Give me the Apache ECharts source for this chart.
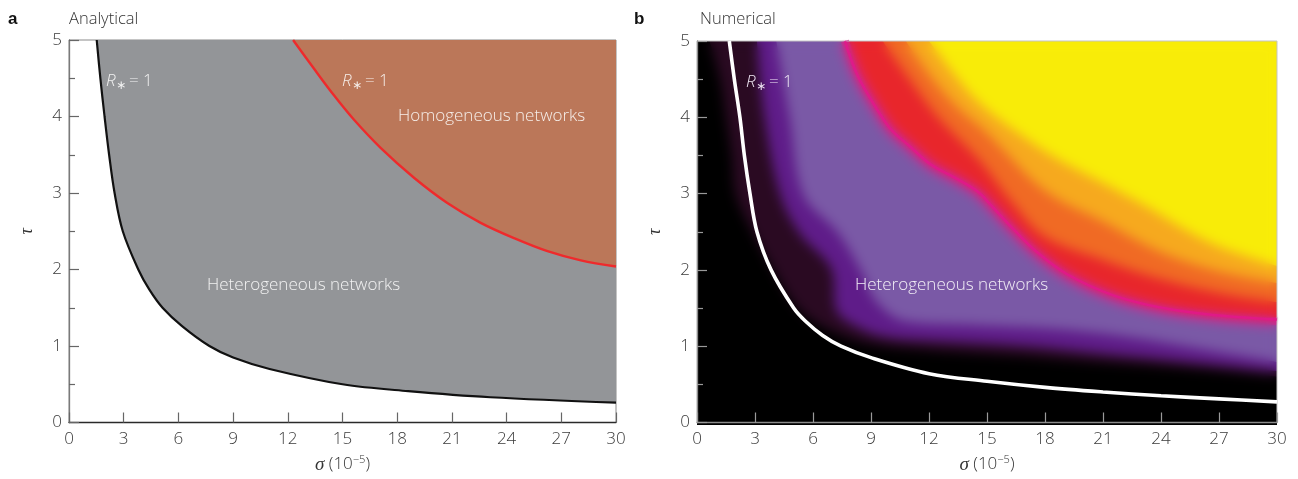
<!DOCTYPE html>
<html><head><meta charset="utf-8">
<script src="https://cdn.jsdelivr.net/npm/echarts@6/dist/echarts.min.js"></script>
<style>
html,body{margin:0;padding:0;background:#fff;}
#stage{position:relative;width:1298px;height:479px;overflow:hidden;}
#heatSharp{position:absolute;left:0;top:0;width:1298px;height:479px;}
#heatClip{position:absolute;left:697px;top:41px;width:580px;height:384px;overflow:hidden;}
#heatBlur{position:absolute;left:-697px;top:-41px;width:1298px;height:479px;filter:blur(6px);}
#main{position:absolute;left:0;top:0;width:1298px;height:479px;}
</style></head>
<body>
<div id="stage"><div id="heatSharp"></div><div id="heatClip"><div id="heatBlur"></div></div><div id="main"></div></div>
<script>
// ---------- data ----------
// Panel a: analytical R* = 1 curves
const blackSigma = [1.52, 1.72, 1.95, 2.20, 2.50, 2.95, 3.80, 4.40, 5.13, 6.20, 7.70, 9.00, 11.0, 15.0, 18.6, 23.1, 30.0];
const blackTau   = [5.00, 4.50, 4.00, 3.50, 3.00, 2.50, 2.00, 1.74, 1.50, 1.26, 1.00, 0.85, 0.70, 0.50, 0.41, 0.33, 0.26];
const redSigma   = [12.29, 13.42, 14.52, 15.62, 17.09, 18.92, 20.75, 22.58, 24.41, 26.24, 28.07, 30.0];
const redTau     = [5.00, 4.63, 4.28, 3.96, 3.59, 3.20, 2.87, 2.61, 2.41, 2.24, 2.12, 2.04];
// Panel b: numerical R* = 1 curve
const whiteSigma = [1.67, 1.93, 2.22, 2.45, 2.74, 3.10, 3.83, 5.00, 5.60, 6.50, 7.45, 9.0, 12.0, 15.0, 18.0, 21.0, 24.0, 27.0, 30.0];
const whiteTau   = [5.00, 4.50, 4.00, 3.50, 3.00, 2.50, 2.00, 1.50, 1.33, 1.14, 1.00, 0.85, 0.64, 0.54, 0.46, 0.40, 0.35, 0.31, 0.27];
// Panel b: colour-level boundaries of the numerical map (above/right of each = higher level)
const lvDarkSigma   = [0.64, 1.2, 1.5, 1.8, 2.0, 2.9, 4.0, 5.3, 7.0, 9.0, 12, 15, 18, 21, 24, 27, 30];
const lvDarkTau     = [5.0, 4.5, 4.0, 3.5, 3.0, 2.5, 2.0, 1.5, 1.22, 1.05, 0.97, 0.92, 0.87, 0.81, 0.76, 0.70, 0.63];
const lvPurpleSigma = [3.1, 3.5, 4.3, 5.3, 7.0, 7.2, 8.6, 10, 12, 15, 18, 21, 24, 27, 30];
const lvPurpleTau   = [5.0, 4.0, 3.0, 2.5, 2.0, 1.5, 1.24, 1.14, 1.10, 1.06, 1.01, 0.93, 0.86, 0.78, 0.70];
const lvLavSigma    = [4.1, 4.8, 5.5, 7.3, 8.5, 9.3, 10.8, 14.6, 18, 21, 24, 27, 30];
const lvLavTau      = [5.0, 4.0, 3.0, 2.5, 2.0, 1.6, 1.35, 1.30, 1.26, 1.19, 1.08, 0.95, 0.82];
const lvRedSigma    = [7.65, 8.3, 9.2, 10.0, 11.0, 12.1, 13.4, 14.5, 15.2, 16.3, 17.5, 19.1, 21.5, 24.1, 26.7, 30];
const lvRedTau      = [5.0, 4.55, 4.15, 3.85, 3.62, 3.38, 3.20, 3.03, 2.85, 2.55, 2.25, 1.95, 1.67, 1.50, 1.41, 1.35];
const lvOrangeSigma = [9.6, 11.0, 12.5, 14.6, 16.3, 18, 21, 24, 27, 30];
const lvOrangeTau   = [5.0, 4.5, 4.0, 3.45, 2.9, 2.45, 2.15, 1.9, 1.72, 1.6];
const lvAmberSigma  = [10.8, 12.2, 13.6, 15, 18, 21, 24, 27, 30];
const lvAmberTau    = [5.0, 4.5, 4.1, 3.8, 3.05, 2.65, 2.25, 2.0, 1.85];
const lvYellowSigma = [12.0, 13.2, 14.5, 16.5, 18.4, 21.0, 23.2, 25.2, 27.2, 30];
const lvYellowTau   = [5.0, 4.6, 4.22, 3.82, 3.5, 3.15, 2.85, 2.55, 2.3, 2.07];

const pairs = (xs, ys) => xs.map((x, i) => [x, ys[i]]);
const FONT = "'Open Sans', 'Liberation Sans', sans-serif";
const GRID_A = {left: 69, top: 40, width: 547, height: 384};
const GRID_B = {left: 697, top: 41, width: 580, height: 384};

// ---------- numerical map (drawn twice: sharp + blurred) ----------
function heatOption() {
  const levels = [
    [lvDarkSigma, lvDarkTau, '#2a0a22', null],
    [lvPurpleSigma, lvPurpleTau, '#5f1c89', null],
    [lvLavSigma, lvLavTau, '#7a59a6', null],
    [lvRedSigma, lvRedTau, '#e8262b', '#d9228f'],
    [lvOrangeSigma, lvOrangeTau, '#f06a24', null],
    [lvAmberSigma, lvAmberTau, '#f6a91e', null],
    [lvYellowSigma, lvYellowTau, '#f8ec08', null]
  ];
  return {
    animation: false,
    backgroundColor: 'transparent',
    grid: Object.assign({show: true, backgroundColor: '#000', borderWidth: 0}, GRID_B),
    xAxis: {type: 'value', min: 0, max: 30, show: false},
    yAxis: {type: 'value', min: 0, max: 5, show: false},
    series: levels.map((lv, i) => ({
      type: 'line', data: pairs(lv[0], lv[1]), showSymbol: false, smooth: 0.35,
      z: 2 + i, clip: true,
      lineStyle: lv[3] ? {color: lv[3], width: 8} : {width: 0, opacity: 0},
      areaStyle: {color: lv[2], opacity: 1, origin: 'end'}
    }))
  };
}
const hs = echarts.init(document.getElementById('heatSharp'), null, {renderer: 'canvas'});
hs.setOption(heatOption());
const hb = echarts.init(document.getElementById('heatBlur'), null, {renderer: 'canvas'});
hb.setOption(heatOption());

// ---------- axes, curves and text ----------
function xAxisCfg(gi, lineColor, tickColor) {
  return {
    gridIndex: gi, type: 'value', min: 0, max: 30, interval: 3,
    axisLine: {show: true, onZero: false, lineStyle: {color: lineColor, width: 1.3}},
    axisTick: {show: true, inside: true, length: 10, lineStyle: {color: tickColor, width: 1.2}},
    axisLabel: {margin: 8, color: '#3a3a3a', fontSize: 17, fontFamily: FONT, fontWeight: 300},
    splitLine: {show: false},
    name: '{i|σ} (10{s|−5})', nameLocation: 'middle', nameGap: 32,
    nameTextStyle: {color: '#333', fontSize: 17, fontFamily: FONT, fontWeight: 300,
      rich: {i: {fontFamily: "'Liberation Serif', serif", fontStyle: 'italic', fontSize: 19, color: '#333'},
             s: {fontSize: 11, color: '#333', fontFamily: FONT, padding: [0, 0, 9, 0]}}}
  };
}
function yAxisCfg(gi, lineColor, tickColor) {
  return {
    gridIndex: gi, type: 'value', min: 0, max: 5, interval: 1,
    axisLine: {show: true, onZero: false, lineStyle: {color: lineColor, width: 1.3}},
    axisTick: {show: true, inside: true, length: 10, lineStyle: {color: tickColor, width: 1.2}},
    minorTick: {show: true, splitNumber: 2, length: 6, lineStyle: {color: tickColor, width: 1.2}},
    axisLabel: {margin: 7, color: '#3a3a3a', fontSize: 17, fontFamily: FONT, fontWeight: 300},
    splitLine: {show: false},
    name: 'τ', nameLocation: 'middle', nameGap: 33, nameRotate: 90,
    nameTextStyle: {color: '#333', fontSize: 18, fontFamily: "'Liberation Serif', serif", fontStyle: 'italic'}
  };
}
function txt(x, y, text, opts) {
  return {type: 'text', x: x, y: y, z: 100, style: Object.assign({text: text, fill: '#f2f2f2', fontSize: 17,
    fontFamily: FONT, fontWeight: 300, align: 'left', verticalAlign: 'middle'}, opts || {})};
}
function rStar(x, y, color) {
  return [
    txt(x, y, 'R', {fill: color, fontStyle: 'italic', fontSize: 17}),
    txt(x + 10, y + 5, '∗', {fill: color, fontSize: 12, fontFamily: "'DejaVu Sans', sans-serif", fontWeight: 'normal'}),
    txt(x + 23, y, '= 1', {fill: color, fontSize: 17})
  ];
}

const main = echarts.init(document.getElementById('main'), null, {renderer: 'canvas'});
main.setOption({
  animation: false,
  backgroundColor: 'transparent',
  grid: [
    Object.assign({show: true, borderColor: '#8a8a8a', borderWidth: 1, backgroundColor: 'transparent'}, GRID_A),
    Object.assign({show: true, borderColor: '#c4c4c4', borderWidth: 1, backgroundColor: 'transparent'}, GRID_B)
  ],
  xAxis: [xAxisCfg(0, '#2a2a2a', '#666'), xAxisCfg(1, '#8c8c8c', '#9a9a9a')],
  yAxis: [yAxisCfg(0, '#7a7a7a', '#666'), yAxisCfg(1, '#8c8c8c', '#9a9a9a')],
  series: [
    {type: 'line', xAxisIndex: 0, yAxisIndex: 0, data: pairs(blackSigma, blackTau), showSymbol: false,
     smooth: 0.35, z: 3, lineStyle: {color: '#111', width: 2.2},
     areaStyle: {color: '#939598', opacity: 1, origin: 'end'}},
    {type: 'line', xAxisIndex: 0, yAxisIndex: 0, data: pairs(redSigma, redTau), showSymbol: false,
     smooth: 0.35, z: 4, lineStyle: {color: '#ee2a2c', width: 2.4},
     areaStyle: {color: '#bb7759', opacity: 1, origin: 'end'}},
    {type: 'line', xAxisIndex: 1, yAxisIndex: 1, data: pairs(lvRedSigma, lvRedTau), showSymbol: false,
     smooth: 0.35, z: 3, lineStyle: {color: '#e3178c', width: 2.5, opacity: 0.75,
     shadowBlur: 4, shadowColor: 'rgba(227,23,140,0.8)'}},
    {type: 'line', xAxisIndex: 1, yAxisIndex: 1, data: pairs(whiteSigma, whiteTau), showSymbol: false,
     smooth: 0.35, z: 4, lineStyle: {color: '#ffffff', width: 3.6}}
  ],
  graphic: [
    txt(8, 19, 'a', {fill: '#111', fontWeight: 'bold', fontFamily: "'Liberation Sans', sans-serif", fontSize: 17}),
    txt(69, 19, 'Analytical', {fill: '#333', fontSize: 16.5}),
    txt(634, 19, 'b', {fill: '#111', fontWeight: 'bold', fontFamily: "'Liberation Sans', sans-serif", fontSize: 17}),
    txt(700, 19, 'Numerical', {fill: '#333', fontSize: 16.5}),
    txt(398, 116, 'Homogeneous networks', {fill: '#f6eee9'}),
    txt(207, 285, 'Heterogeneous networks', {fill: '#f2f2f2'}),
    txt(855, 285, 'Heterogeneous networks', {fill: '#f2eef6'})
  ].concat(rStar(106, 81, '#f2f2f2'), rStar(342, 81, '#f6eee9'), rStar(746, 82, '#efe6f4'))
});
</script>
</body></html>
